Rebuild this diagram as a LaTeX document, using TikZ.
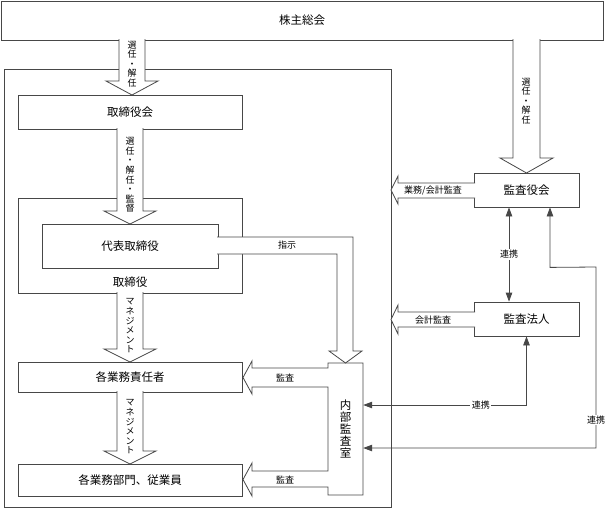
\documentclass[tikz,border=0pt]{standalone}
\usepackage{fontspec}
\setmainfont{Noto Sans CJK JP}
\usetikzlibrary{arrows.meta}
\begin{document}
\begin{tikzpicture}[x=1pt,y=-1pt,
  lc/.style={draw=black!72, line width=0.8pt},
  box/.style={lc, fill=white, rectangle, inner sep=0pt},
  big/.style={font=\fontsize{11.5}{12}\selectfont},
  small/.style={font=\fontsize{9}{10}\selectfont},
  barrow/.style={lc, fill=white, line join=miter},
  link/.style={draw=black!72, line width=0.8pt, {Triangle[length=9pt,width=6.5pt]}-{Triangle[length=9pt,width=6.5pt]}},
  vtext/.style={font=\fontsize{9}{9.6}\selectfont, align=center, inner sep=0pt},
]
\useasboundingbox (0,0) rectangle (605,509);

% boxes
\node[box, big, minimum width=602pt, minimum height=39pt] (gm) at (302,20.5) {株主総会};
\node[box, minimum width=387pt, minimum height=438pt] (outer) at (197.5,288) {};
\node[box, big, minimum width=224pt, minimum height=34pt] (bod) at (130,112) {取締役会};
\node[box, minimum width=224pt, minimum height=95pt] (dirs) at (130,245.5) {};
\node[big] (dirslbl) at (130,282) {取締役};
\node[box, big, minimum width=176pt, minimum height=44pt] (ceo) at (130,246) {代表取締役};
\node[box, big, minimum width=224pt, minimum height=30pt] (mgr) at (130,377) {各業務責任者};
\node[box, big, minimum width=224pt, minimum height=32pt] (emp) at (130,480) {各業務部門、従業員};
\node[box, big, minimum width=105pt, minimum height=34pt] (kansa) at (526.5,190) {監査役会};
\node[box, big, minimum width=105pt, minimum height=34pt] (hojin) at (526.5,319) {監査法人};

% internal audit shape with its two audit arrows
\draw[lc, fill=white, line join=miter] (328,363) -- (363,363) -- (363,495) -- (328,495) -- (328,487) -- (252,487) -- (252,496) -- (243,479.5) -- (252,463) -- (252,471) -- (328,471) -- (328,387) -- (252,387) -- (252,394) -- (243,377.5) -- (252,361) -- (252,368) -- (328,368) -- cycle;
\node[font=\fontsize{11.5}{12.2}\selectfont, align=center, inner sep=0pt, minimum width=35pt, minimum height=132pt] (ia) at (345.5,429) {内\\部\\監\\査\\室};
\node[small] (au1) at (285,378) {監査};
\node[small] (au2) at (285,480) {監査};

% block arrows
\filldraw[barrow] (119,39) -- (119,81) -- (106,81) -- (132,95) -- (158,81) -- (145,81) -- (145,39);
\node[vtext] (t1) at (132,64) {選\\任\\・\\解\\任};

\filldraw[barrow] (117,128) -- (117,211) -- (104,211) -- (130,224) -- (156,211) -- (143,211) -- (143,128);
\node[vtext] (t2) at (130,175) {選\\任\\・\\解\\任\\・\\監\\督};

\filldraw[barrow] (117,292) -- (117,349) -- (104,349) -- (130,362) -- (156,349) -- (143,349) -- (143,292);
\node[vtext] (t3) at (130,326) {マ\\ネ\\ジ\\メ\\ン\\ト};

\filldraw[barrow] (117,391) -- (117,451) -- (104,451) -- (130,464) -- (156,451) -- (143,451) -- (143,391);
\node[vtext] (t4) at (130,427) {マ\\ネ\\ジ\\メ\\ン\\ト};

\filldraw[barrow] (217,237) -- (353,237) -- (353,351) -- (362,351) -- (345.5,363) -- (329,351) -- (337,351) -- (337,254) -- (217,254);
\node[small] (shiji) at (287,245.5) {指示};

\filldraw[barrow] (513,39) -- (513,158) -- (500,158) -- (526.5,173) -- (553,158) -- (540,158) -- (540,39);
\node[vtext] (t5) at (526,101) {選\\任\\・\\解\\任};

\filldraw[barrow] (475,183) -- (398,183) -- (398,176) -- (391,190) -- (398,204) -- (398,198) -- (475,198);
\node[small] (gk) at (433,190.5) {業務/会計監査};

\filldraw[barrow] (475,312) -- (398,312) -- (398,305) -- (391,319.5) -- (398,334) -- (398,327) -- (475,327);
\node[small] (kk) at (433,320) {会計監査};

% links
\draw[link] ([xshift=-17.5pt]kansa.south) -- ([xshift=-17.5pt]hojin.north) node[midway, small, fill=white, inner sep=1.5pt] (r1) {連携};
\draw[link] (hojin.south) |- (ia.east |- 0,405) node[pos=0.64, small, fill=white, inner sep=1.5pt] (r2) {連携};
\draw[link] ([xshift=23.5pt]kansa.south) -- ++(0,60) -- (596,267) -- node[pos=0.845, small, fill=white, inner sep=1pt] (r3) {連携} (596,448) -- (ia.east |- 0,448);
\end{tikzpicture}
\end{document}
